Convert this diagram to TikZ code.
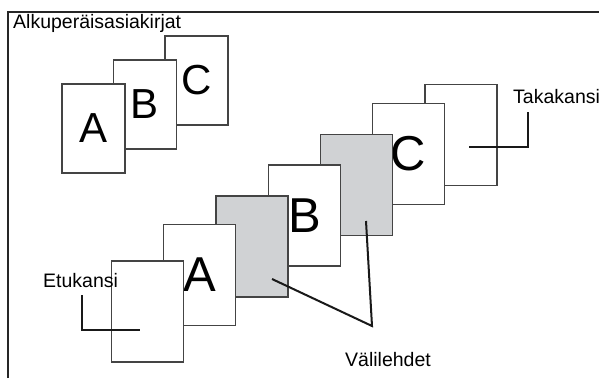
\documentclass[tikz,border=0pt]{standalone}
\usepackage{fontspec}
\setmainfont{Liberation Sans}
\definecolor{sheetgray}{RGB}{208,210,212}
\definecolor{edgegray}{RGB}{68,68,68}
\tikzset{
  sheet/.style={draw=edgegray, line width=1.2pt, fill=white, minimum width=63pt, minimum height=89pt, inner sep=0pt, font=\fontsize{42}{42}\selectfont},
  bigsheet/.style={sheet, minimum width=72pt, minimum height=101pt, font=\fontsize{49}{49}\selectfont},
  tab/.style={bigsheet, fill=sheetgray},
  lbl/.style={inner sep=0pt, anchor=base west, font=\fontsize{19.5}{21}\selectfont},
  leader/.style={line width=2pt, black!90}
}
\begin{document}
\begin{tikzpicture}[x=1pt,y=-1pt]
\useasboundingbox (0,0) rectangle (599,378);
\draw[line width=2.4pt, black!85] (8,378)--(8,12)--(599,12);
\node[lbl] (orig) at (13,28) {Alkuperäisasiakirjat};
% originals
\node[sheet] (origC) at (196.5,80.5) {C};
\node[sheet] (origB) at (145,104.5) {B};
\node[sheet] (origA) at (93.5,128.5) {A};
% set with tabs and covers
\node[bigsheet] (back) at (461,135) {};
\node[bigsheet] (setC) at (408.5,154) {C};
\node[tab] (tabB) at (356.5,185) {};
\node[bigsheet] (setB) at (304.5,215.5) {B};
\node[tab] (tabA) at (252,246.5) {};
\node[bigsheet] (setA) at (199.5,275) {A};
\node[bigsheet] (front) at (147.5,311.5) {};
% labels
\node[lbl] (backlbl) at (513,103) {Takakansi};
\node[lbl] (frontlbl) at (43,287) {Etukansi};
\node[lbl] (tablbl) at (345,366) {Välilehdet};
\coordinate (backin) at (469,147);
\coordinate (backup) at (528,112);
\coordinate (frontin) at (140,330);
\coordinate (frontup) at (82,295);
\coordinate (tabAin) at (272,279);
\coordinate (tabBin) at (366,221);
\coordinate (tabtip) at (372,326);
\draw[leader] (backin) -| (backup);
\draw[leader] (frontup) |- (frontin);
\draw[leader] (tabAin) -- (tabtip) -- (tabBin);
\end{tikzpicture}
\end{document}
